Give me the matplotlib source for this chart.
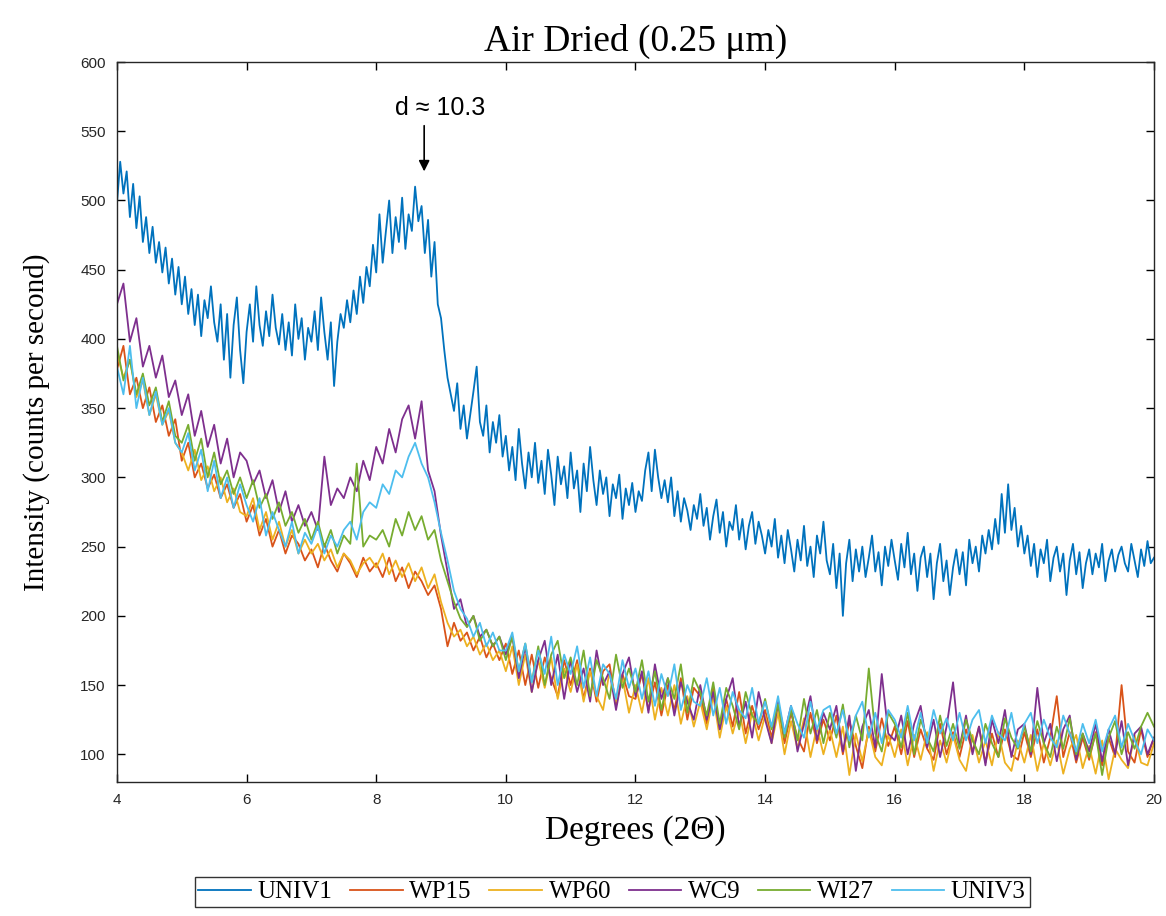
import matplotlib.pyplot as plt
import numpy as np

# XRD scans, air dried 0.25 um fraction
two_theta_fine = np.round(np.arange(4.0, 20.001, 0.05), 2)    # UNIV1 sampling
two_theta = np.round(np.arange(4.0, 20.001, 0.1), 1)          # other samples

univ1 = [
    498, 528, 505, 521, 488, 512, 480, 503, 470, 488,
    462, 481, 455, 470, 448, 466, 440, 458, 432, 452,
    425, 445, 418, 436, 410, 432, 402, 428, 415, 438,
    412, 398, 425, 385, 418, 372, 410, 430, 392, 368,
    405, 425, 398, 438, 410, 395, 420, 402, 432, 408,
    396, 418, 392, 412, 388, 425, 400, 415, 385, 408,
    398, 420, 392, 430, 405, 385, 412, 366, 398, 418,
    408, 428, 412, 435, 418, 445, 426, 452, 438, 468,
    448, 490, 455, 478, 500, 462, 488, 470, 502, 465,
    490, 478, 510, 485, 496, 462, 486, 445, 470, 425,
    415, 392, 372, 360, 348, 368, 335, 352, 328, 345,
    362, 380, 340, 330, 352, 318, 340, 325, 345, 315,
    330, 305, 322, 298, 335, 310, 292, 318, 300, 325,
    296, 312, 288, 320, 302, 280, 315, 295, 308, 285,
    318, 292, 305, 275, 310, 290, 322, 298, 280, 305,
    288, 300, 272, 295, 285, 302, 270, 292, 280, 296,
    275, 290, 283, 305, 318, 290, 320, 300, 285, 298,
    282, 300, 272, 290, 268, 285, 276, 262, 280, 270,
    288, 265, 278, 255, 272, 284, 260, 275, 250, 268,
    262, 280, 255, 270, 248, 265, 275, 252, 268, 258,
    245, 262, 250, 270, 242, 258, 238, 262, 248, 232,
    255, 240, 265, 236, 250, 228, 258, 245, 268, 240,
    230, 252, 220, 245, 200, 238, 255, 225, 248, 232,
    250, 228, 242, 258, 232, 246, 222, 250, 236, 255,
    240, 226, 252, 235, 260, 230, 245, 218, 242, 250,
    228, 245, 212, 238, 252, 225, 240, 215, 235, 248,
    230, 246, 222, 255, 238, 250, 232, 258, 245, 262,
    248, 270, 252, 288, 260, 295, 262, 278, 250, 265,
    245, 258, 236, 252, 228, 248, 238, 255, 225, 242,
    250, 232, 245, 215, 240, 252, 230, 246, 220, 238,
    248, 230, 245, 235, 252, 225, 240, 248, 232, 244,
    250, 238, 232, 252, 240, 228, 248, 236, 254, 238,
    242,
]

wp15 = [
    378, 395, 360, 372, 350, 365, 340, 352, 330, 342,
    312, 325, 300, 310, 292, 302, 285, 295, 278, 288,
    268, 280, 258, 270, 250, 262, 245, 258, 252, 240,
    248, 235, 252, 240, 232, 245, 238, 228, 242, 232,
    238, 228, 242, 225, 235, 220, 232, 225, 215, 222,
    205, 178, 195, 182, 188, 175, 185, 170, 180, 168,
    180, 158, 175, 150, 172, 148, 170, 155, 142, 168,
    150, 168, 140, 162, 138, 160, 165, 135, 158, 142,
    140, 158, 132, 152, 128, 150, 132, 155, 125, 148,
    142, 122, 148, 118, 140, 120, 145, 115, 135, 118,
    132, 112, 136, 108, 130, 112, 102, 130, 108, 125,
    110, 128, 100, 124, 106, 90, 120, 102, 126, 106,
    120, 100, 124, 98, 118, 104, 96, 122, 100, 116,
    98, 118, 102, 120, 94, 115, 98, 118, 100, 96,
    116, 98, 118, 94, 112, 142, 98, 116, 94, 112,
    96, 116, 92, 112, 98, 150, 102, 94, 118, 98,
    112,
]

wp60 = [
    390, 372, 385, 358, 370, 345, 360, 338, 348, 325,
    318, 305, 320, 298, 308, 290, 300, 282, 292, 275,
    272, 285, 262, 275, 255, 268, 250, 262, 245, 255,
    245, 252, 240, 248, 235, 245, 240, 230, 238, 242,
    235, 245, 230, 240, 228, 238, 225, 235, 220, 230,
    210, 195, 185, 190, 178, 185, 172, 180, 168, 175,
    160, 178, 150, 172, 145, 168, 148, 170, 140, 162,
    145, 165, 138, 160, 142, 132, 160, 138, 155, 130,
    150, 130, 155, 125, 148, 128, 150, 122, 142, 120,
    138, 118, 142, 112, 135, 115, 132, 108, 130, 110,
    128, 108, 130, 100, 124, 104, 126, 98, 120, 100,
    118, 98, 120, 85, 115, 95, 118, 98, 92, 114,
    98, 118, 92, 114, 96, 116, 88, 110, 94, 114,
    96, 88, 114, 94, 110, 92, 116, 94, 88, 110,
    94, 114, 88, 108, 92, 110, 86, 104, 114, 90,
    106, 86, 110, 82, 104, 96, 90, 114, 94, 92,
    108,
]

wc9 = [
    425, 440, 398, 415, 380, 395, 372, 388, 358, 370,
    345, 360, 330, 348, 322, 338, 310, 328, 300, 318,
    312, 295, 305, 285, 298, 275, 290, 268, 280, 265,
    275, 262, 315, 280, 292, 285, 300, 290, 312, 298,
    322, 310, 335, 318, 342, 352, 328, 355, 305, 290,
    258, 232, 205, 212, 192, 200, 185, 190, 178, 185,
    172, 185, 155, 178, 145, 168, 182, 150, 172, 140,
    168, 145, 162, 138, 175, 150, 160, 132, 158, 170,
    142, 160, 130, 165, 140, 155, 128, 152, 138, 125,
    150, 125, 145, 118, 140, 155, 120, 138, 112, 145,
    125, 108, 138, 115, 135, 102, 122, 142, 110, 130,
    118, 135, 102, 128, 88, 120, 132, 105, 158, 115,
    110, 128, 100, 122, 135, 105, 125, 98, 120, 152,
    105, 128, 100, 120, 92, 125, 108, 132, 98, 118,
    122, 100, 148, 108, 122, 95, 118, 128, 96, 115,
    102, 122, 95, 118, 100, 124, 92, 115, 120, 100,
    112,
]

wi27 = [
    395, 370, 385, 360, 375, 352, 365, 340, 355, 330,
    325, 338, 312, 328, 300, 318, 295, 305, 288, 300,
    285, 298, 278, 288, 270, 282, 265, 275, 260, 270,
    255, 268, 250, 262, 245, 258, 252, 310, 250, 258,
    255, 262, 250, 270, 258, 275, 262, 272, 255, 262,
    240, 225, 210, 198, 192, 200, 182, 190, 178, 185,
    168, 185, 160, 180, 152, 178, 150, 172, 182, 155,
    170, 150, 175, 142, 168, 155, 140, 172, 148, 162,
    145, 168, 138, 160, 132, 155, 140, 165, 130, 155,
    145, 128, 152, 122, 148, 135, 118, 145, 128, 122,
    140, 118, 136, 112, 132, 110, 140, 115, 132, 108,
    130, 112, 136, 105, 128, 110, 162, 115, 102, 130,
    122, 105, 130, 100, 125, 112, 102, 128, 106, 122,
    104, 125, 110, 100, 122, 108, 98, 126, 112, 104,
    120, 102, 124, 108, 98, 120, 104, 126, 100, 115,
    98, 115, 85, 112, 124, 100, 116, 104, 120, 130,
    120,
]

univ3 = [
    380, 360, 395, 350, 372, 345, 362, 338, 350, 325,
    318, 332, 305, 320, 290, 312, 285, 300, 278, 295,
    280, 268, 285, 258, 275, 262, 250, 268, 245, 260,
    252, 265, 245, 258, 250, 262, 268, 255, 275, 282,
    278, 295, 288, 305, 300, 315, 325, 310, 300, 282,
    260, 240, 218, 205, 198, 185, 195, 178, 188, 175,
    175, 188, 160, 180, 152, 175, 158, 185, 150, 172,
    158, 178, 148, 170, 142, 165, 158, 140, 168, 148,
    162, 140, 160, 135, 158, 142, 165, 132, 150, 138,
    135, 155, 128, 148, 122, 145, 132, 126, 148, 122,
    138, 120, 142, 115, 135, 122, 112, 138, 118, 132,
    135, 115, 132, 110, 128, 138, 112, 130, 108, 132,
    125, 112, 135, 110, 130, 108, 132, 115, 126, 110,
    130, 110, 125, 132, 108, 128, 115, 110, 130, 105,
    122, 130, 108, 125, 112, 105, 128, 115, 102, 122,
    108, 125, 102, 118, 128, 105, 122, 110, 100, 118,
    110,
]

# MATLAB default colour order
colors = ["#0072BD", "#D95319", "#EDB120", "#7E2F8E", "#77AC30", "#4DBEEE"]

fig = plt.figure(figsize=(11.66, 9.16), dpi=100)
ax = fig.add_axes([0.1003, 0.1463, 0.8894, 0.786])

lw = 1.3
ax.plot(two_theta_fine, univ1, color=colors[0], lw=lw, label="UNIV1")
ax.plot(two_theta, wp15, color=colors[1], lw=lw, label="WP15")
ax.plot(two_theta, wp60, color=colors[2], lw=lw, label="WP60")
ax.plot(two_theta, wc9, color=colors[3], lw=lw, label="WC9")
ax.plot(two_theta, wi27, color=colors[4], lw=lw, label="WI27")
ax.plot(two_theta, univ3, color=colors[5], lw=lw, label="UNIV3")

ax.set_xlim(4, 20)
ax.set_ylim(80, 600)
ax.set_xticks(np.arange(4, 21, 2))
ax.set_yticks(np.arange(100, 601, 50))
ax.tick_params(direction="in", top=True, right=True, length=6, width=1,
               labelsize=11, pad=8)
for lab in ax.get_xticklabels() + ax.get_yticklabels():
    lab.set_family("Liberation Sans")
    lab.set_color("#262626")
for s in ax.spines.values():
    s.set_linewidth(1.0)
    s.set_color("#262626")

serif = "Liberation Serif"
ax.set_title("Air Dried (0.25 \u03bcm)", family=serif, fontsize=27, pad=8)
ax.set_xlabel("Degrees (2\u0398)", family=serif, fontsize=24, labelpad=6)
ax.set_ylabel("Intensity (counts per second)", family=serif, fontsize=21,
              labelpad=22)

# peak annotation
ax.text(8.99, 567, "d \u2248 10.3", ha="center", va="center",
        family="Liberation Sans", fontsize=18)
ax.annotate("", xy=(8.74, 519), xytext=(8.74, 556),
            arrowprops=dict(arrowstyle="-|>", color="black", lw=1.2,
                            mutation_scale=16))

leg = fig.legend(loc="center", bbox_to_anchor=(0.525, 0.026), ncol=6,
                 prop={"family": serif, "size": 18}, frameon=True,
                 fancybox=False, edgecolor="black", handlelength=2.1,
                 handletextpad=0.27, columnspacing=0.7, borderpad=0.15)
leg.get_frame().set_linewidth(1.0)

fig.savefig("out.png", dpi=100)
